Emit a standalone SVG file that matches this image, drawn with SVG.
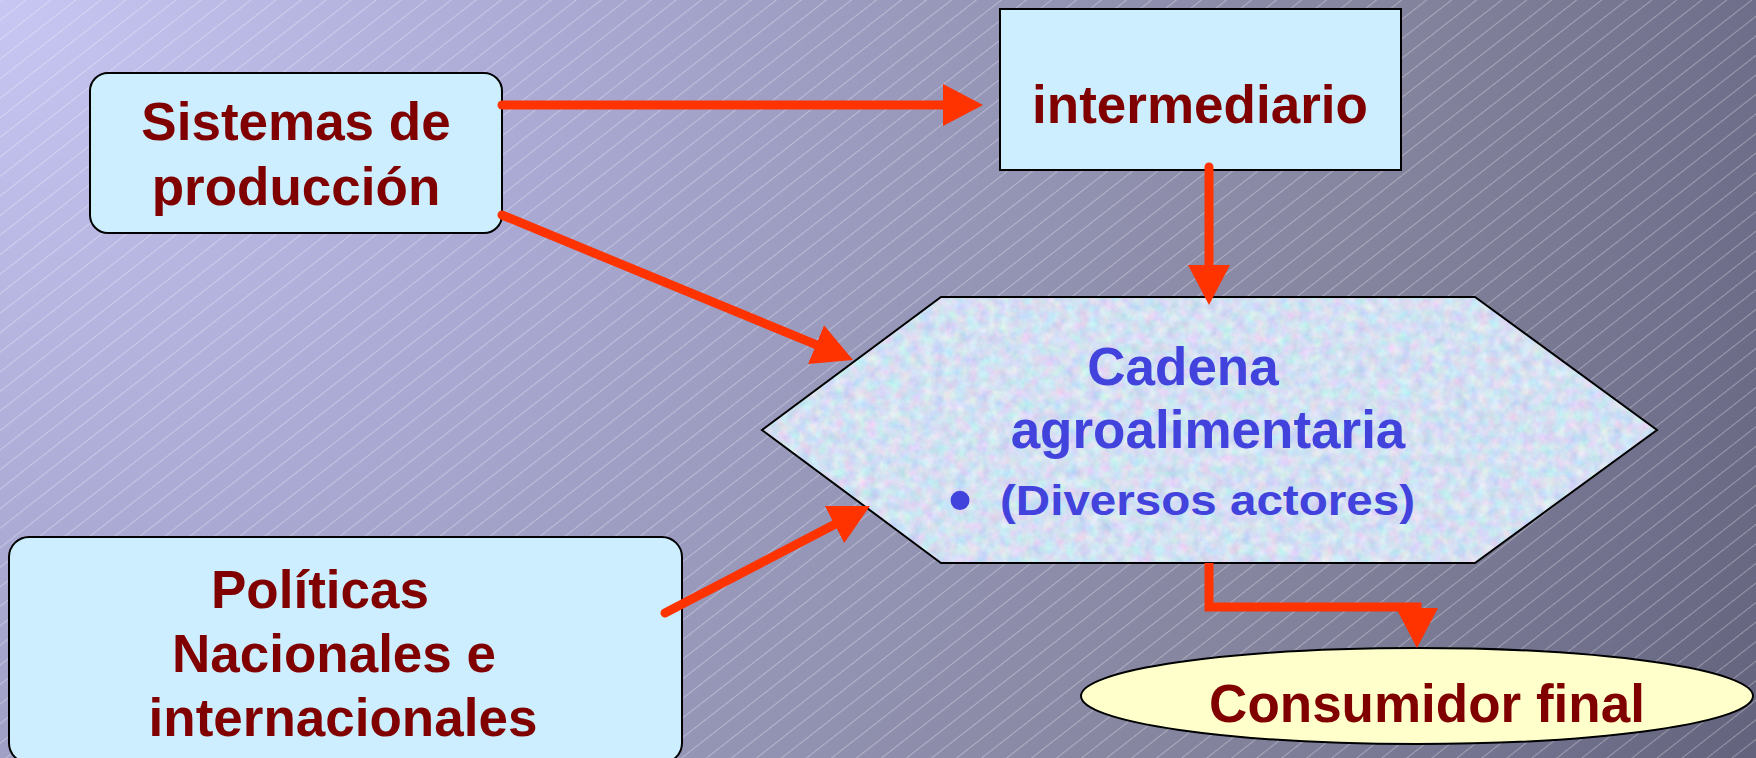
<svg xmlns="http://www.w3.org/2000/svg" width="1756" height="758" viewBox="0 0 1756 758">
  <defs>
    <radialGradient id="bg" gradientUnits="userSpaceOnUse" cx="0" cy="0" r="1920">
      <stop offset="0" stop-color="#c8c6f2"/>
      <stop offset="0.27" stop-color="#ababd6"/>
      <stop offset="0.45" stop-color="#9b9bbf"/>
      <stop offset="0.72" stop-color="#85859f"/>
      <stop offset="0.9" stop-color="#70708c"/>
      <stop offset="1" stop-color="#62627c"/>
    </radialGradient>
    <pattern id="hatch" width="16" height="15.4" patternUnits="userSpaceOnUse" patternTransform="rotate(-38)">
      <line x1="0" y1="0.5" x2="16" y2="0.5" stroke="#ffffff" stroke-opacity="0.32" stroke-width="1"/>
    </pattern>
    <filter id="tex" x="0" y="0" width="100%" height="100%" color-interpolation-filters="sRGB">
      <feTurbulence type="fractalNoise" baseFrequency="0.09" numOctaves="3" seed="7"/>
      <feColorMatrix type="matrix" values="0.3 0 0 0 0.68  0 0.22 0 0 0.77  0 0 0.12 0 0.89  0 0 0 0 1"/>
      <feComposite in2="SourceGraphic" operator="in"/>
    </filter>
    <clipPath id="hexclip">
      <polygon points="762,430 941,297 1475,297 1657,430 1475,563 941,563"/>
    </clipPath>
    <marker id="arrow" markerUnits="userSpaceOnUse" markerWidth="44" markerHeight="46" viewBox="0 -23 44 46" refX="0" refY="0" orient="auto">
      <path d="M0,-21 L40,0 L0,21 z" fill="#ff3300"/>
    </marker>
    <style>
      .box { fill: #cceeff; stroke: #000000; stroke-width: 2; }
      .red { font-family: "Liberation Sans", Arial, sans-serif; font-weight: bold; font-size: 53px; fill: #800000; text-anchor: middle; }
      .blue { font-family: "Liberation Sans", Arial, sans-serif; font-weight: bold; font-size: 53px; fill: #4242dc; }
      .conn { fill: none; stroke: #ff3300; stroke-width: 9; stroke-linecap: round; stroke-linejoin: miter; marker-end: url(#arrow); }
    </style>
  </defs>

  <rect x="0" y="0" width="1756" height="758" fill="url(#bg)"/>
  <rect x="0" y="0" width="1756" height="758" fill="url(#hatch)"/>

  <g id="node-sistemas">
    <rect class="box" x="90" y="73" width="412" height="160" rx="18" ry="18"/>
    <text class="red" x="296" y="140">Sistemas de</text>
    <text class="red" x="296" y="205">producción</text>
  </g>

  <g id="node-intermediario">
    <rect class="box" x="1000" y="9" width="401" height="161"/>
    <text class="red" x="1200" y="123">intermediario</text>
  </g>

  <g id="node-cadena">
    <g clip-path="url(#hexclip)">
      <rect x="762" y="297" width="895" height="266" fill="#d2e4f6"/>
      <rect x="762" y="297" width="895" height="266" fill="#ffffff" filter="url(#tex)"/>
    </g>
    <polygon points="762,430 941,297 1475,297 1657,430 1475,563 941,563" fill="none" stroke="#000000" stroke-width="2"/>
    <text class="blue" x="1183" y="385" text-anchor="middle">Cadena</text>
    <text class="blue" x="1208" y="448" text-anchor="middle">agroalimentaria</text>
    <text class="blue" x="960" y="522" text-anchor="middle" style="font-size:66px">•</text>
    <text class="blue" x="1000" y="515" style="font-size:43px" textLength="415" lengthAdjust="spacingAndGlyphs">(Diversos actores)</text>
  </g>

  <g id="node-politicas">
    <rect class="box" x="9" y="537" width="673" height="226" rx="20" ry="20"/>
    <text class="red" x="320" y="608">Políticas</text>
    <text class="red" x="334" y="672">Nacionales e</text>
    <text class="red" x="343" y="736">internacionales</text>
  </g>

  <g id="node-consumidor">
    <ellipse cx="1417" cy="696" rx="336" ry="48" fill="#ffffcc" stroke="#000000" stroke-width="2"/>
    <text class="red" x="1427" y="722">Consumidor final</text>
  </g>

  <g id="connectors">
    <path class="conn" d="M502,105 H943"/>
    <path class="conn" d="M502,215 L816,344.7"/>
    <path class="conn" d="M665,613 L834.5,524.5"/>
    <path class="conn" d="M1209,167 V265"/>
    <path class="conn" style="stroke-linecap:butt" d="M1209,563 V607 H1417 V608"/>
  </g>
</svg>
